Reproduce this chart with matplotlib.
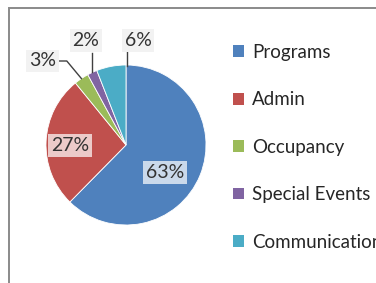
import matplotlib
matplotlib.use('Agg')
import matplotlib.pyplot as plt
from matplotlib.patches import Rectangle
import numpy as np

# data
categories = ['Programs', 'Admin', 'Occupancy', 'Special Events', 'Communication']
shares = [63, 27, 3, 2, 6]
colors = ['#4F81BD', '#C0504D', '#9BBB59', '#8064A2', '#4BACC6']

W, H = 376, 283
CX, CY, R = 126, 145, 80  # pie centre / radius in pixels

plt.rcParams['font.family'] = ['Lato', 'DejaVu Sans']

fig = plt.figure(figsize=(W / 100, H / 100), dpi=100)
fig.patch.set_facecolor('white')

# outer chart frame (cut off at right/bottom like the screenshot)
fig.patches.append(Rectangle((9 / W, -0.1), 1.2, (H - 8) / H + 0.1,
                             transform=fig.transFigure, fill=False,
                             edgecolor='#8a8a8a', linewidth=1.4))

ax = fig.add_axes([(CX - R) / W, (H - CY - R) / H, 2 * R / W, 2 * R / H])

wedges, _ = ax.pie(shares, colors=colors, startangle=90, counterclock=False,
                   radius=1, wedgeprops=dict(edgecolor='white', linewidth=0.6))
ax.set_xlim(-1, 1)
ax.set_ylim(-1, 1)
ax.set_aspect('auto')
ax.axis('off')

# label positions (data coords), inside labels first, then outside ones
label_pos = [(0.49, -0.34), (-0.70, -0.01), (-1.04, 1.05), (-0.50, 1.31), (0.15, 1.31)]
box_style = [dict(boxstyle='square,pad=0.15', fc='white', ec='none', alpha=0.7),
             dict(boxstyle='square,pad=0.15', fc='white', ec='none', alpha=0.7),
             dict(boxstyle='square,pad=0.15', fc='#f2f2f2', ec='none'),
             dict(boxstyle='square,pad=0.15', fc='#f2f2f2', ec='none'),
             dict(boxstyle='square,pad=0.15', fc='#f2f2f2', ec='none')]

for i, (w, val) in enumerate(zip(wedges, shares)):
    lx, ly = label_pos[i]
    ax.text(lx, ly, f'{val}%', ha='center', va='center', fontsize=14,
            color='#333333', bbox=box_style[i], zorder=5)
    if i < 2:
        continue
    mid = np.deg2rad((w.theta1 + w.theta2) / 2)
    ex, ey = np.cos(mid), np.sin(mid)
    if i == 2:
        pts = [(lx + 0.19, ly), (lx + 0.30, ly), (ex, ey)]
    elif i == 3:
        pts = [(ex, ly - 0.16), (ex, ey)]
    else:
        pts = [(lx - 0.07, ly), (lx - 0.14, ly), (lx - 0.14, ey)]
    xs, ys = zip(*pts)
    ax.plot(xs, ys, color='#404040', linewidth=1.0, clip_on=False, zorder=4)

# legend
handles = [Rectangle((0, 0), 1, 1, fc=c, ec='none') for c in colors]
fig.legend(handles, categories, loc='upper left',
           bbox_to_anchor=(233 / W, 1 - 44 / H), frameon=False,
           fontsize=13.5, handlelength=0.6, handleheight=0.6,
           handletextpad=0.4, labelspacing=1.62, labelcolor='#262626',
           borderaxespad=0, borderpad=0)

fig.savefig('out.png', dpi=100)
